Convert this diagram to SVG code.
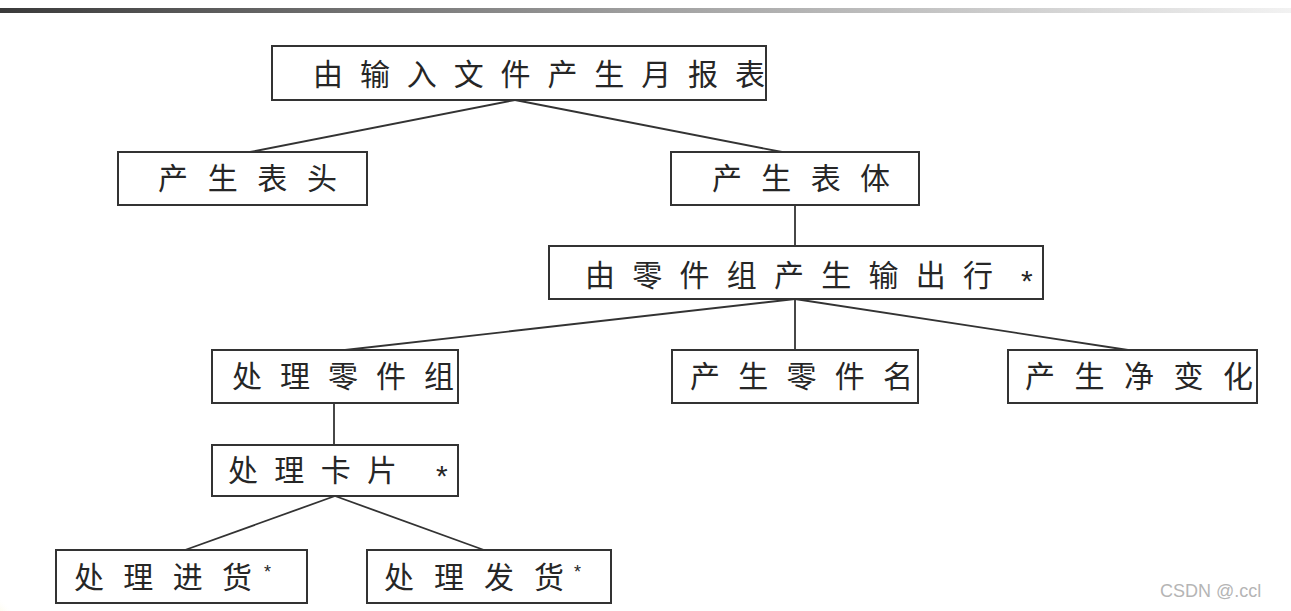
<svg xmlns="http://www.w3.org/2000/svg" width="1291" height="611" viewBox="0 0 1291 611">
<style>
.box{fill:#fff;stroke:#333;stroke-width:2}
.t{font-family:"Noto Sans CJK SC","Noto Sans",sans-serif;font-size:30px;font-weight:400;fill:#262626}
.star{font-family:"Liberation Sans",sans-serif;font-size:30px;fill:#262626}
.dot{font-family:"Liberation Sans",sans-serif;font-size:18px;fill:#262626}
#connectors line{stroke:#333;stroke-width:1.8}
.wm{font-family:"Liberation Sans",sans-serif;font-size:18px;fill:#b5b5b5}
</style>
<defs>
<linearGradient id="bar" x1="0" y1="0" x2="1" y2="0">
<stop offset="0" stop-color="#3a3a3a"/>
<stop offset="0.5" stop-color="#a0a0a0"/>
<stop offset="1" stop-color="#f2f2f2"/>
</linearGradient>
<radialGradient id="yel" cx="0" cy="1" r="1">
<stop offset="0" stop-color="#e8d84a"/>
<stop offset="1" stop-color="#fff" stop-opacity="0"/>
</radialGradient>
</defs>
<rect width="1291" height="611" fill="#fff"/>
<rect x="0" y="8" width="1291" height="5" fill="url(#bar)"/>
<g id="connectors">
<line x1="515" y1="100" x2="250" y2="152"/>
<line x1="515" y1="100" x2="782" y2="152"/>
<line x1="795" y1="205" x2="795" y2="246"/>
<line x1="795" y1="299" x2="345" y2="350"/>
<line x1="795" y1="299" x2="795" y2="350"/>
<line x1="795" y1="299" x2="1128" y2="350"/>
<line x1="334" y1="403" x2="334" y2="445"/>
<line x1="335" y1="496" x2="185" y2="550"/>
<line x1="335" y1="496" x2="484" y2="550"/>
</g>
<g id="n1"><rect class="box" x="272" y="46" width="494" height="54"/><text class="t" x="313" y="85" textLength="452" lengthAdjust="spacing">由输入文件产生月报表</text></g>
<g id="n2"><rect class="box" x="118" y="152" width="249" height="53"/><text class="t" x="158" y="189" textLength="179" lengthAdjust="spacing">产生表头</text></g>
<g id="n3"><rect class="box" x="671" y="152" width="248" height="53"/><text class="t" x="712" y="189" textLength="178" lengthAdjust="spacing">产生表体</text></g>
<g id="n4"><rect class="box" x="549" y="246" width="494" height="53"/><text class="t" x="585" y="286" textLength="408" lengthAdjust="spacing">由零件组产生输出行</text><text class="star" x="1021" y="291">*</text></g>
<g id="n5"><rect class="box" x="212" y="350" width="246" height="53"/><text class="t" x="232" y="387" textLength="222" lengthAdjust="spacing">处理零件组</text></g>
<g id="n6"><rect class="box" x="672" y="350" width="246" height="53"/><text class="t" x="690" y="387" textLength="223" lengthAdjust="spacing">产生零件名</text></g>
<g id="n7"><rect class="box" x="1008" y="350" width="249" height="53"/><text class="t" x="1025" y="387" textLength="228" lengthAdjust="spacing">产生净变化</text></g>
<g id="n8"><rect class="box" x="212" y="445" width="246" height="51"/><text class="t" x="228" y="481" textLength="169" lengthAdjust="spacing">处理卡片</text><text class="star" x="436" y="486">*</text></g>
<g id="n9"><rect class="box" x="56" y="550" width="251" height="53"/><text class="t" x="74" y="588" textLength="178" lengthAdjust="spacing">处理进货</text><text class="dot" x="264" y="578">*</text></g>
<g id="n10"><rect class="box" x="367" y="550" width="244" height="53"/><text class="t" x="384" y="588" textLength="180" lengthAdjust="spacing">处理发货</text><text class="dot" x="574" y="578">*</text></g>
<circle cx="0" cy="611" r="18" fill="url(#yel)"/>
<text class="wm" x="1160" y="597">CSDN @.ccl</text>
</svg>
